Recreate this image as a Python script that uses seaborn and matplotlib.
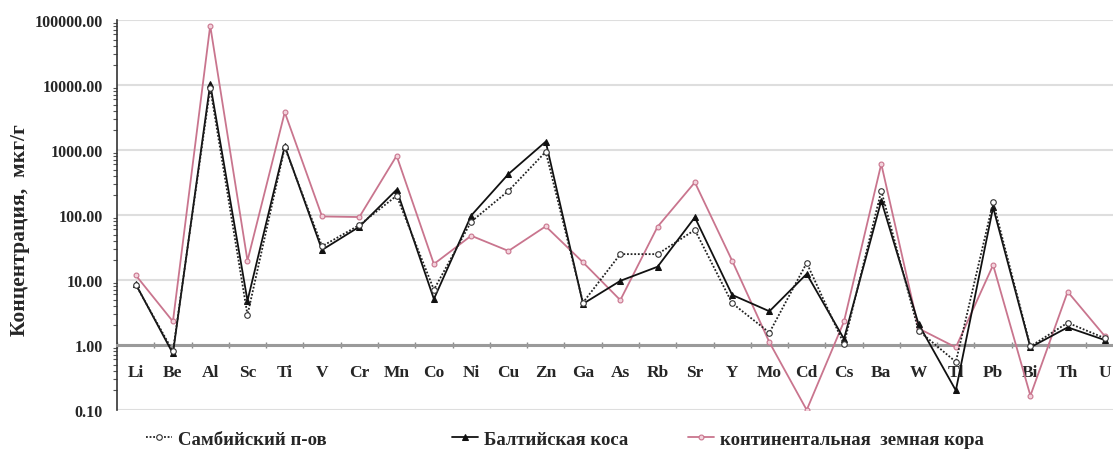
import numpy as np
import pandas as pd
import matplotlib
matplotlib.use("Agg")
import matplotlib.pyplot as plt
from matplotlib.ticker import FixedLocator, LogLocator, NullFormatter, FuncFormatter
import seaborn as sns

elements = ["Li", "Be", "Al", "Sc", "Ti", "V", "Cr", "Mn", "Co", "Ni", "Cu", "Zn", "Ga",
            "As", "Rb", "Sr", "Y", "Mo", "Cd", "Cs", "Ba", "W", "Tl", "Pb", "Bi", "Th", "U"]

sambia = [8.5, 0.8, 9000, 2.9, 1100, 33, 70, 198, 7.1, 79, 235, 940, 4.5,
          25, 25, 59, 4.4, 1.55, 18.3, 1.03, 236, 1.66, 0.55, 157, 0.95, 2.2, 1.27]
baltic = [8.7, 0.74, 10400, 4.8, 1150, 29, 66, 245, 5.1, 98, 427, 1345, 4.3,
          9.7, 16, 92, 5.9, 3.3, 12.4, 1.24, 166, 2.1, 0.20, 131, 0.92, 1.87, 1.19]
crust = [11.9, 2.3, 82000, 19.8, 3800, 95, 93, 815, 17.6, 48, 28, 67, 18.7,
         4.9, 66, 318, 19.8, 1.1, 0.10, 2.3, 610, 1.8, 0.92, 17, 0.166, 6.6, 1.36]

series_names = ["Самбийский п-ов", "Балтийская коса", "континентальная  земная кора"]
y_ticks = [0.1, 1, 10, 100, 1000, 10000, 100000]

sns.set_theme(style="white")
plt.rcParams["font.family"] = ["Liberation Serif", "DejaVu Serif"]
plt.rcParams["font.weight"] = "bold"

W, H = 1113, 456
fig = plt.figure(figsize=(W / 100, H / 100), dpi=100)
ax = fig.add_axes([117 / W, 45 / H, 1006.6 / W, 390 / H])

x = np.arange(len(elements))
df = pd.DataFrame({"x": x, "sambia": sambia, "baltic": baltic, "crust": crust})

pink = "#c9758e"
sns.lineplot(data=df, x="x", y="crust", ax=ax, color=pink, lw=1.3, marker="o",
             markersize=3.5, markerfacecolor="#f3d3dc", markeredgecolor=pink,
             markeredgewidth=0.8, label=series_names[2], zorder=3)
sns.lineplot(data=df, x="x", y="baltic", ax=ax, color="#111111", lw=1.3, marker="^",
             markersize=4.5, markerfacecolor="#111111", markeredgecolor="#111111",
             label=series_names[1], zorder=4)
sns.lineplot(data=df, x="x", y="sambia", ax=ax, color="#222222", lw=1.3,
             linestyle=(0, (1, 1)), marker="o", markersize=4,
             markerfacecolor="white", markeredgecolor="#333333", markeredgewidth=0.8,
             label=series_names[0], zorder=5)

ax.set_yscale("log")
ax.set_ylim(0.1, 100000)
ax.set_xlim(-0.5, len(elements) - 0.5)

# horizontal gridlines at each decade
for v in y_ticks:
    ax.axhline(v, color="#dedede", lw=1.5, zorder=0)

ax.yaxis.set_major_locator(FixedLocator(y_ticks))
ax.yaxis.set_minor_locator(LogLocator(base=10, subs=np.arange(2, 10)))
ax.yaxis.set_minor_formatter(NullFormatter())
ax.yaxis.set_major_formatter(FuncFormatter(lambda v, p: f"{v:.2f}"))
ax.tick_params(axis="y", which="major", direction="out", length=5, width=1,
               color="#333333", labelsize=11.5, pad=5)
ax.tick_params(axis="y", which="minor", direction="out", length=3, width=0.8,
               color="#555555", left=True)
for lbl in ax.get_yticklabels():
    lbl.set_fontweight("bold")

# category axis crossing the value axis at 1.0
ax.spines["bottom"].set_position(("data", 1))
ax.spines["bottom"].set_color("#9a9a9a")
ax.spines["bottom"].set_linewidth(2.2)
ax.spines["top"].set_visible(False)
ax.spines["right"].set_visible(False)
ax.spines["left"].set_color("#333333")
ax.spines["left"].set_linewidth(1.2)

ax.xaxis.set_major_locator(FixedLocator(x))
ax.xaxis.set_minor_locator(FixedLocator(np.arange(len(elements) + 1) - 0.5))
ax.set_xticklabels(elements, fontsize=12.5, fontweight="bold")
ax.tick_params(axis="x", which="major", length=0, pad=14)
ax.tick_params(axis="x", which="minor", direction="inout", length=5, width=1,
               color="#8a8a8a", bottom=True)

ax.set_xlabel("")
ax.set_ylabel("")
fig.text(20 / W, 1 - 230 / H, "Концентрация,  мкг/г", rotation=90,
         ha="center", va="center", fontsize=15.5, fontweight="bold")

# legend entries placed along the bottom edge
handles, labels = ax.get_legend_handles_labels()
ax.get_legend().remove()
entry_x = [146, 452, 688]
for name, xpos in zip(series_names, entry_x):
    h = handles[labels.index(name)]
    fig.legend([h], [name], loc="center left",
               bbox_to_anchor=(xpos / W, 1 - 440 / H),
               frameon=False, borderpad=0, borderaxespad=0, handlelength=1.4,
               handletextpad=0.3, prop={"weight": "bold", "size": 13.5})

fig.savefig("out.png", dpi=100)
